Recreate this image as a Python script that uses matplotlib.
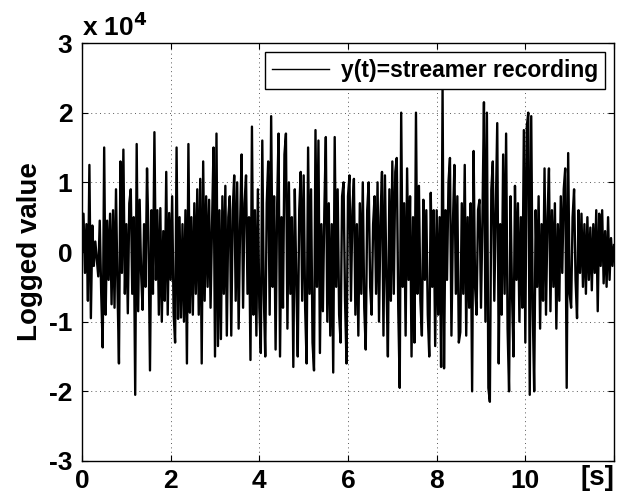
import numpy as np
import matplotlib.pyplot as plt

# streamer recording, values in units of 1e3
sample_rate = 30  # samples per second
y_thousands = [
    # 0 s
    0, 5.5, -3, 4, -7, 12.5, -9.5, 3.8, -2, 1.5, -1, -3.5, 4.5, -6, -13.7,
    15, -9, 4.5, -4, 5.5, -7.5, 6, -8, 9, -5, -16, 13, -3, 14.7, -6,
    # 1 s
    4, -8.8, 7, 9, -6, 5, -20.5, 15.5, -8.5, 7.5, -3, -8.3, 4, -5, 12,
    2, -17, 6, -6, 17.2, -4, 6, -9, 6.3, -10, 3, -7, 11.5, -9, 5.6,
    # 2 s
    -4, 8, -8.8, -13, 15, -9.6, 5, -9.4, 4, -10, 6, -16, 15.5, -8.7, 5,
    -9, 7, -6, 9, -9, 10.5, -16, 13, -7, 8, -5, 7.5, -8, 4, 15,
    # 3 s
    -15, 17, -13.5, 6, -12.5, 8, -6, 9.5, -12, 5, 8, -12, 6, 11, -7,
    10, -11, 4, 14, -8, 7, 11, -6, 5, -15.5, 18, -9, 6, -12, 9,
    # 4 s
    -8, -14.5, 16, -6, -15, 7, 13, -9, 19.5, -5, 8, -14, 6, 17, -15,
    5, -8, 14, 17, -11, 10, -6, 5, -16.5, 9, -4, -15, 6, 11.5, -7,
    # 5 s
    11, -8, -16, 15, -6, 9, -13, -17, 17.5, -5, 16, -14.5, 4, -8.5, 6,
    16.5, -10, 7, -12, 4, -17.3, 16.5, -5, 9, -9, -13, 8, 10, -7, -16,
    # 6 s
    8, 11, -7, 6, 10.5, -9, 4, -12, 7, -6, 10, -8, -14, 6, 10,
    -5, -9, 4, 8, -6, 10, -10, 5, 11.5, -12, 11, -4, -15, 9, -7,
    # 7 s
    13, -6, 11.5, 13.5, -8, -19.5, 20, -5, 7, -12, 12, -4, 8, -15, 5,
    -13, 20, -6, 9.5, -7, -12, 7.5, -4, 6, -9, -15, 8.5, -5, 6, -13.5,
    # 8 s
    6, -9, 5, -16.5, 23.5, -16.7, 6, -4, 10, 13.5, -12, 4, 12.5, -6, 8,
    -13, -11.5, 7, -6, 12.5, -12, 5, -8, 7, -20, 14.5, -5, -9, 6, 7.5,
    # 9 s
    -8, 5, 21.5, -10, 20, -19.5, -21.5, 9, 13, -7, 6, 18.5, -16, 4, -9,
    14, -6, 17, -11, -20, 8, -6, -15, 9.5, -4, 7, -10, 5, -8, 17.5,
    # 10 s
    -13, 18, 20, -20.5, 19.5, -8, -20, 6, -5, 8, -11, 4, -7, 12, -9,
    5, 12, -8.5, 6, -5, 7, -11, 4, -7, 8, -3, 9, 12, -19.5, 14.2,
    # 11 s
    -6, -8, 5, 9, -4, -9.5, 6, -3, 5.5, -5, 4, -6, 5, -4, 3.5,
    -5.5, 4, -3, 6, -8.5, 5.5, -2, 6, -4.5, 3, -5, 5, -4, 2, -2,
    1,
]

x_ticks = [0, 2, 4, 6, 8, 10]
y_ticks = [-3, -2, -1, 0, 1, 2, 3]
legend_label = "y(t)=streamer recording"

y = np.array(y_thousands) * 1e3
t = np.arange(len(y)) / sample_rate

plt.rcParams["font.family"] = ["Liberation Sans", "DejaVu Sans"]
plt.rcParams["font.weight"] = "bold"

fig, ax = plt.subplots(figsize=(6.18, 4.95), dpi=100)
fig.subplots_adjust(left=0.1327, right=0.9935, bottom=0.0687, top=0.9131)

ax.plot(t, y, color="black", lw=1.7, label=legend_label)

ax.set_xlim(0, 12)
ax.set_ylim(-3e4, 3e4)
ax.set_xticks(x_ticks + [12], labels=[str(v) for v in x_ticks] + [""])
ax.set_yticks([v * 1e4 for v in y_ticks], labels=[str(v) for v in y_ticks])
ax.tick_params(direction="in", top=True, right=True, labelsize=19, length=4, width=0.8)
ax.tick_params(axis="x", pad=6)
ax.tick_params(axis="y", pad=7)
ax.grid(True, color="0.35", linestyle=(0, (1, 3.5)), lw=0.7)
for s in ax.spines.values():
    s.set_linewidth(1.0)

ax.set_ylabel("Logged value", fontsize=20, fontweight="bold", labelpad=4)
ax.text(1.0, -0.01, "[s]", transform=ax.transAxes, ha="right", va="top",
        fontsize=20, fontweight="bold")
ax.text(0.0, 1.005, r"x 10$^{\mathbf{4}}$", transform=ax.transAxes, ha="left", va="bottom",
        fontsize=19, fontweight="bold")

leg = ax.legend(loc="upper right", fontsize=16.5, handlelength=2.5, borderaxespad=0.4,
                fancybox=False, framealpha=1, edgecolor="black", borderpad=0.3,
                handletextpad=0.5)
leg.get_frame().set_linewidth(1.0)
leg.get_lines()[0].set_linewidth(1.0)

fig.savefig("out.png", dpi=100)
